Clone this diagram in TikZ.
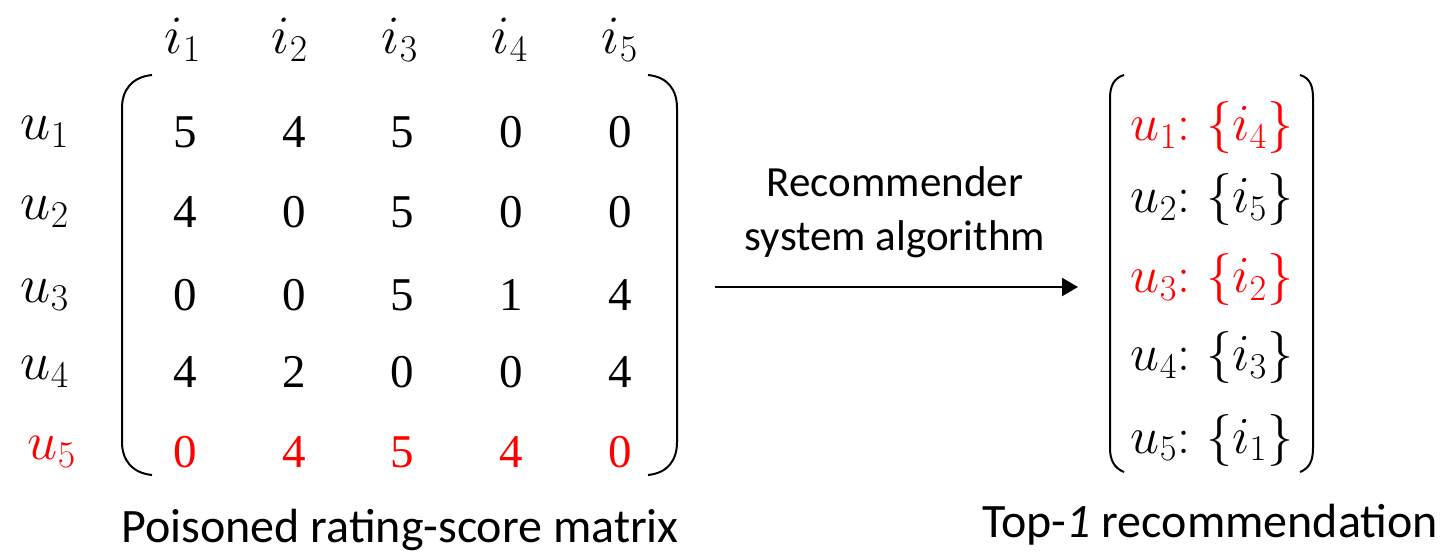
\RequirePackage{fix-cm}
\documentclass[tikz,border=0pt]{standalone}
\usepackage{fontspec}
\setsansfont{Carlito}
\newfontfamily\numfont{Liberation Serif}
\usetikzlibrary{arrows.meta}
\begin{document}
\begin{tikzpicture}[x=0.5pt,y=-0.5pt]
\tikzset{
  lbl/.style={font=\fontsize{24}{28}\selectfont\sffamily, inner sep=0pt},
  alg/.style={font=\fontsize{21.5}{27}\selectfont\sffamily, align=center, inner sep=0pt},
  num/.style={font=\numfont\fontsize{23.5}{28}\selectfont, inner sep=0pt},
  mth/.style={font=\fontsize{27}{32}\selectfont, inner sep=0pt},
  lst/.style={font=\fontsize{26}{30}\selectfont, inner sep=0pt},
  brk/.style={line width=1pt},
  conn/.style={line width=1.1pt, -{Triangle[length=8pt,width=9pt]}},
}
\useasboundingbox (0,0) rectangle (1445,555);
% column headers
\foreach \x/\k in {183/1,290/2,400/3,510/4,620/5}
  \node[mth] (h\k) at (\x,40) {$i_{\k}$};
% row labels
\foreach \y/\k/\col/\dx in {132/1/black/0,212/2/black/0,295/3/black/0,372/4/black/0,452/5/red/7}
  \node[mth, text=\col] (u\k) at (45+\dx,\y) {$u_{\k}$};
% matrix entries
\foreach \r/\y/\col/\vals in {1/132/black/{5,4,5,0,0},2/212/black/{4,0,5,0,0},3/295/black/{0,0,5,1,4},4/372/black/{4,2,0,0,4},5/452/red/{0,4,5,4,0}}
  \foreach \v [count=\c] in \vals
    \node[num, text=\col] (m\r\c) at (76.25+108.75*\c,\y) {\v};
% matrix brackets
\draw[brk] (152,75) .. controls (132,77) and (122,90) .. (122,108) -- (122,442) .. controls (122,460) and (132,473) .. (152,475);
\draw[brk] (648,75) .. controls (668,77) and (677,90) .. (677,108) -- (677,442) .. controls (677,460) and (668,473) .. (648,475);
\node[lbl] (ml) at (400,530) {Poisoned rating-score matrix};
% arrow
\coordinate (a0) at (715,287);
\coordinate (a1) at (1078,287);
\draw[conn] (a0) -- (a1);
\node[alg] (alg) at (895,212) {Recommender\\system algorithm};
% recommendation list
\foreach \y/\u/\i/\col in {128/1/4/red,200/2/5/black,280/3/2/red,358/4/3/black,440/5/1/black}
  \node[lst, text=\col] (r\u) at (1212,\y) {$u_{\u}{:}\ \{i_{\i}\}$};
\draw[brk] (1124,75) .. controls (1114,78) and (1110,86) .. (1110,98) -- (1110,448) .. controls (1110,460) and (1114,468) .. (1124,472);
\draw[brk] (1300,75) .. controls (1310,78) and (1313,86) .. (1313,98) -- (1313,448) .. controls (1313,460) and (1310,468) .. (1300,472);
\node[lbl] (rl) at (1210,525) {Top-\textit{1} recommendation};
\end{tikzpicture}
\end{document}
